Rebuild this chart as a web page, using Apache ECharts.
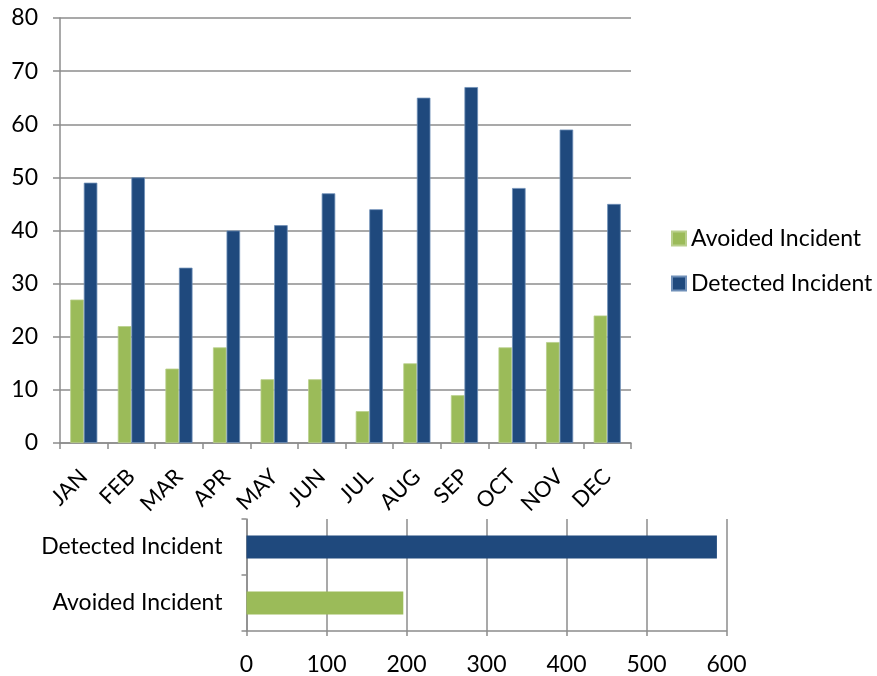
<!DOCTYPE html>
<html>
<head>
<meta charset="utf-8">
<script src="https://cdn.jsdelivr.net/npm/echarts@6/dist/echarts.min.js"></script>
<style>
  html, body { margin: 0; padding: 0; background: #fff; }
  #chart { width: 877px; height: 676px; }
</style>
</head>
<body>
<div id="chart"></div>
<script>
// Monthly incident counts
const months = ['JAN', 'FEB', 'MAR', 'APR', 'MAY', 'JUN', 'JUL', 'AUG', 'SEP', 'OCT', 'NOV', 'DEC'];
const avoided = [27, 22, 14, 18, 12, 12, 6, 15, 9, 18, 19, 24];
const detected = [49, 50, 33, 40, 41, 47, 44, 65, 67, 48, 59, 45];

// Yearly totals (bottom chart)
const totalCategories = ['Avoided Incident', 'Detected Incident'];
const totals = [196, 588];

const GREEN = '#9bbb59';
const BLUE = '#1f497d';
const AXIS = '#8c8c8c';
const FONT = 'Lato, "Open Sans", sans-serif';

const chart = echarts.init(document.getElementById('chart'), null, { renderer: 'canvas' });

chart.setOption({
  animation: false,
  backgroundColor: '#ffffff',
  textStyle: { fontFamily: FONT },
  legend: {
    data: ['Avoided Incident', 'Detected Incident'],
    orient: 'vertical',
    left: 671,
    top: 227,
    padding: 0,
    itemWidth: 14,
    itemHeight: 14,
    itemGap: 22,
    icon: 'rect',
    textStyle: { fontFamily: FONT, fontSize: 23, color: '#000' }
  },
  grid: [
    { left: 60, top: 18, width: 571, height: 425, containLabel: false },
    { left: 246.5, top: 519, width: 480, height: 112, containLabel: false }
  ],
  xAxis: [
    {
      gridIndex: 0,
      type: 'category',
      data: months,
      axisLine: { lineStyle: { color: AXIS, width: 1.5 } },
      axisTick: { show: true, length: 6, lineStyle: { color: AXIS, width: 1.5 } },
      axisLabel: { rotate: 45, fontSize: 22, color: '#000', margin: 30, fontFamily: FONT },
      splitLine: { show: false }
    },
    {
      gridIndex: 1,
      type: 'value',
      min: 0,
      max: 600,
      interval: 100,
      axisLine: { show: true, lineStyle: { color: AXIS, width: 1.5 } },
      axisTick: { show: true, length: 5, lineStyle: { color: AXIS, width: 1.5 } },
      axisLabel: { fontSize: 23, color: '#000', margin: 22, fontFamily: FONT },
      splitLine: { show: true, lineStyle: { color: AXIS, width: 1.5 } }
    }
  ],
  yAxis: [
    {
      gridIndex: 0,
      type: 'value',
      min: 0,
      max: 80,
      interval: 10,
      axisLine: { show: true, lineStyle: { color: AXIS, width: 1.5 } },
      axisTick: { show: true, length: 7, lineStyle: { color: AXIS, width: 1.5 } },
      axisLabel: { fontSize: 23, color: '#000', margin: 22, fontFamily: FONT },
      splitLine: { show: true, lineStyle: { color: AXIS, width: 1.5 } }
    },
    {
      gridIndex: 1,
      type: 'category',
      data: totalCategories,
      axisLine: { show: true, lineStyle: { color: AXIS, width: 1.5 } },
      axisTick: { show: true, length: 5, lineStyle: { color: AXIS, width: 1.5 } },
      axisLabel: { fontSize: 23, color: '#000', margin: 24, fontFamily: FONT },
      splitLine: { show: false }
    }
  ],
  series: [
    {
      name: 'Avoided Incident',
      type: 'bar',
      xAxisIndex: 0,
      yAxisIndex: 0,
      data: avoided,
      barGap: '0%',
      barCategoryGap: '43%',
      itemStyle: { color: GREEN, borderColor: '#b9cf8c', borderWidth: 0.8 }
    },
    {
      name: 'Detected Incident',
      type: 'bar',
      xAxisIndex: 0,
      yAxisIndex: 0,
      data: detected,
      barGap: '0%',
      barCategoryGap: '43%',
      itemStyle: { color: BLUE, borderColor: '#6f8fb8', borderWidth: 0.8 }
    },
    {
      name: 'Totals',
      type: 'bar',
      xAxisIndex: 1,
      yAxisIndex: 1,
      barCategoryGap: '59%',
      data: totals.map((v, i) => ({
        value: v,
        itemStyle: { color: i === 0 ? GREEN : BLUE }
      }))
    }
  ]
});
</script>
</body>
</html>
